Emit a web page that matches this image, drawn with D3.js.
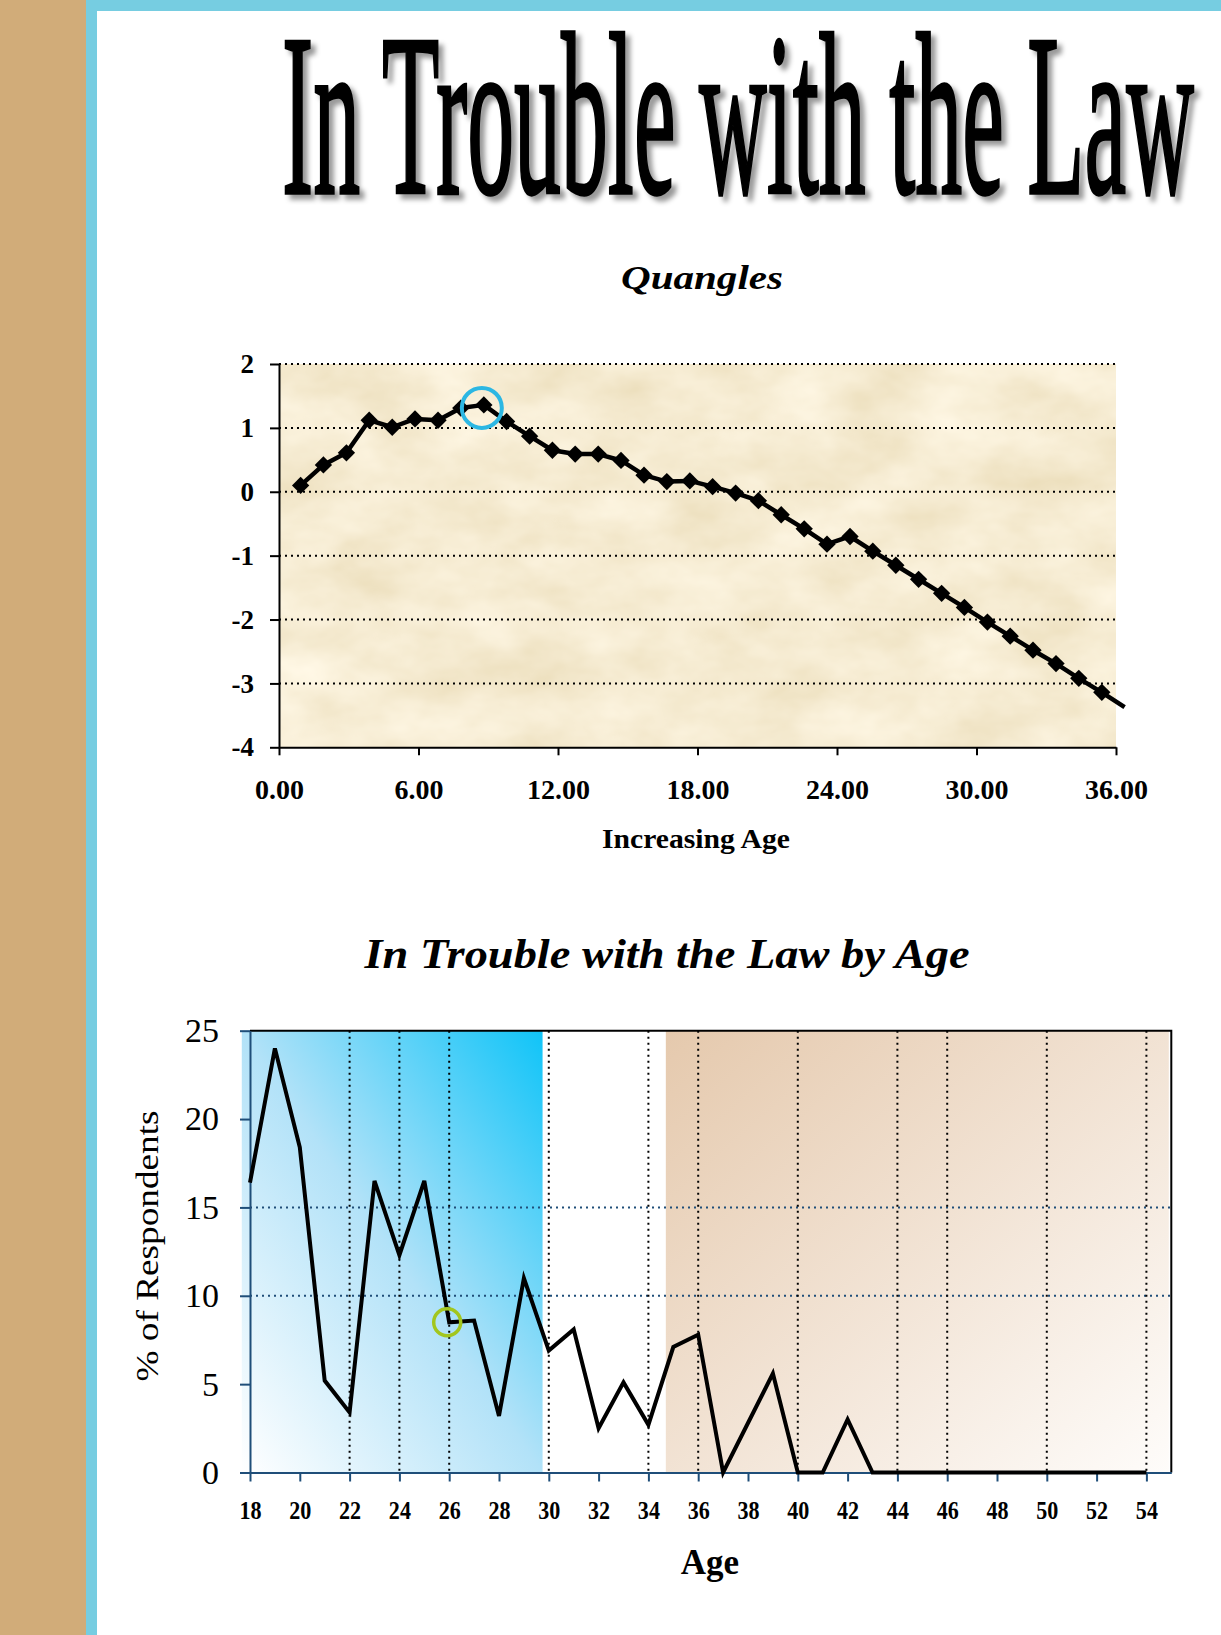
<!DOCTYPE html>
<html><head><meta charset="utf-8">
<script src="https://cdn.jsdelivr.net/npm/d3@7"></script>
<style>body{margin:0;background:#fff;} svg{display:block}</style>
</head><body><svg id="c" width="1221" height="1635"></svg>
<script>
// ---------- DATA ----------
const pageTitle = "In Trouble with the Law";
const quangleTitle = "Quangles";
const quangleXLabel = "Increasing Age";
const quangleX = [0.93,1.91,2.90,3.88,4.87,5.85,6.84,7.82,8.81,9.79,10.78,11.76,12.74,13.73,14.71,15.70,16.68,17.67,18.65,19.64,20.62,21.60,22.59,23.57,24.56,25.54,26.53,27.51,28.50,29.48,30.47,31.45,32.43,33.42,34.40,35.39,36.37];
const quangleY = [0.10,0.42,0.61,1.12,1.01,1.14,1.12,1.31,1.36,1.10,0.87,0.65,0.59,0.59,0.49,0.26,0.16,0.17,0.08,-0.02,-0.14,-0.36,-0.58,-0.82,-0.70,-0.93,-1.15,-1.37,-1.59,-1.81,-2.04,-2.26,-2.48,-2.69,-2.92,-3.14,-3.37];
const quangleXTicks = [0,6,12,18,24,30,36];
const quangleYTicks = [-4,-3,-2,-1,0,1,2];
const quangleGrid = [-3,-2,-1,0,1,2];
const quangleHighlight = 8;

const troubleTitle = "In Trouble with the Law by Age";
const troubleYLabel = "% of Respondents";
const troubleXLabel = "Age";
const ages = [18,19,20,21,22,23,24,25,26,27,28,29,30,31,32,33,34,35,36,37,38,39,40,41,42,43,44,45,46,47,48,49,50,51,52,53,54];
const troublePct = [16.4,24.0,18.4,5.2,3.4,16.5,12.3,16.5,8.5,8.6,3.2,11.0,6.9,8.1,2.5,5.1,2.7,7.1,7.8,0,2.8,5.6,0,0,3.0,0,0,0,0,0,0,0,0,0,0,0,0];
const ageTicks = [18,20,22,24,26,28,30,32,34,36,38,40,42,44,46,48,50,52,54];
const ageGrid = [22,24,26,30,34,36,40,44,46,50,54];
const pctTicks = [0,5,10,15,20,25];
const pctGrid = [10,15];
const blueBand = [17.67,29.75];
const tanBand = [34.7,54.9];
const troubleHighlightAge = 26;

// ---------- DRAW ----------
const svg = d3.select('#c');
const defs = svg.append('defs');
const SERIF = "'Liberation Serif','Times New Roman',serif";

// page frame
svg.append('rect').attr('x',0).attr('y',0).attr('width',86).attr('height',1635).attr('fill','#d1ac79');
svg.append('rect').attr('x',86).attr('y',0).attr('width',11).attr('height',1635).attr('fill','#76cde1');
svg.append('rect').attr('x',86).attr('y',0).attr('width',1135).attr('height',11).attr('fill','#76cde1');

// shadow filter
const sh = defs.append('filter').attr('id','shadow').attr('x','-1%').attr('y','-5%').attr('width','103%').attr('height','115%');
sh.append('feDropShadow').attr('dx',5).attr('dy',5).attr('stdDeviation',2.5).attr('flood-color','#000').attr('flood-opacity',0.4);

const titleG = svg.append('g').attr('filter','url(#shadow)');
const titleT = titleG.append('text').attr('x',0).attr('y',0)
  .attr('font-family',SERIF).attr('font-weight','normal').attr('font-size',230)
  .attr('stroke','#000').attr('stroke-width',2.5).attr('vector-effect','non-scaling-stroke')
  .attr('fill','#000').text(pageTitle);
const natW = titleT.node().getComputedTextLength();
titleT.attr('transform',`translate(282,193) scale(${912/natW},1)`);

// parchment filter
const pf = defs.append('filter').attr('id','paper').attr('filterUnits','objectBoundingBox')
  .attr('x',0).attr('y',0).attr('width',1).attr('height',1);
pf.append('feTurbulence').attr('type','fractalNoise').attr('baseFrequency','0.012 0.02').attr('numOctaves',4).attr('seed',7).attr('result','n');
pf.append('feColorMatrix').attr('in','n').attr('type','matrix')
  .attr('values','0.2 0 0 0 0.82  0.25 0 0 0 0.71  0.35 0 0 0 0.47  0 0 0 0 1');

// ===== Chart 1 =====
const x1 = d3.scaleLinear().domain([0,36]).range([279,1116]);
const y1 = d3.scaleLinear().domain([-4,2]).range([747.3,364]);

svg.append('text').attr('x',702).attr('y',289).attr('text-anchor','middle')
  .attr('font-family',SERIF).attr('font-weight','bold').attr('font-style','italic').attr('font-size',34)
  .attr('textLength',162).attr('lengthAdjust','spacingAndGlyphs').text(quangleTitle);

svg.append('rect').attr('x',x1(0)).attr('y',y1(2)).attr('width',x1(36)-x1(0)).attr('height',y1(-4)-y1(2))
  .attr('fill','#e9d5ae').attr('filter','url(#paper)');

svg.append('g').selectAll('line').data(quangleGrid).join('line')
  .attr('x1',x1(0)).attr('x2',x1(36)).attr('y1',d=>y1(d)).attr('y2',d=>y1(d))
  .attr('stroke','#000').attr('stroke-width',2).attr('stroke-dasharray','2,4');

const ax1 = svg.append('g').attr('transform',`translate(0,${y1(-4)})`)
  .call(d3.axisBottom(x1).tickValues(quangleXTicks).tickFormat(d3.format('.2f')).tickSize(8).tickSizeOuter(0).tickPadding(24));
const ay1 = svg.append('g').attr('transform',`translate(${x1(0)},0)`)
  .call(d3.axisLeft(y1).tickValues(quangleYTicks).tickFormat(d=>String(d)).tickSize(9).tickSizeOuter(0).tickPadding(16));
[ax1,ay1].forEach(g=>{
  g.select('.domain').attr('stroke','#000').attr('stroke-width',2);
  g.selectAll('.tick line').attr('stroke','#000').attr('stroke-width',2);
  g.selectAll('.tick text').attr('fill','#000').attr('font-family',SERIF).attr('font-weight','bold');
});
ax1.selectAll('.tick text').attr('font-size',28);
ay1.selectAll('.tick text').attr('font-size',27);

svg.append('text').attr('x',696).attr('y',848).attr('text-anchor','middle')
  .attr('font-family',SERIF).attr('font-weight','bold').attr('font-size',28)
  .attr('textLength',188).attr('lengthAdjust','spacingAndGlyphs').text(quangleXLabel);

const line1 = d3.line().x((d,i)=>x1(quangleX[i])).y(d=>y1(d));
svg.append('path').datum(quangleY).attr('d',line1).attr('fill','none')
  .attr('stroke','#000').attr('stroke-width',4.5).attr('stroke-linejoin','round');

const markerData = quangleY.map((v,i)=>({x:quangleX[i],y:v})).filter(d=>d.x<=36);
svg.append('g').selectAll('path').data(markerData).join('path')
  .attr('d',d3.symbol(d3.symbolSquare,150))
  .attr('transform',d=>`translate(${x1(d.x)},${y1(d.y)}) rotate(45)`)
  .attr('fill','#000');

svg.append('circle').attr('cx',x1(quangleX[quangleHighlight])-2).attr('cy',y1(quangleY[quangleHighlight])+3).attr('r',20)
  .attr('fill','none').attr('stroke','#2cb7e3').attr('stroke-width',4);

// ===== Chart 2 =====
const x2 = d3.scaleLinear().domain([18,55]).range([250,1171.3]);
const y2 = d3.scaleLinear().domain([0,25]).range([1472.5,1030.7]);

svg.append('text').attr('x',667).attr('y',968).attr('text-anchor','middle')
  .attr('font-family',SERIF).attr('font-weight','bold').attr('font-style','italic').attr('font-size',42)
  .attr('textLength',605).attr('lengthAdjust','spacingAndGlyphs').text(troubleTitle);

const bg = defs.append('linearGradient').attr('id','blueG').attr('x1',0).attr('y1',1).attr('x2',1).attr('y2',0);
bg.append('stop').attr('offset',0).attr('stop-color','#ffffff');
bg.append('stop').attr('offset',0.5).attr('stop-color','#b2e2f8');
bg.append('stop').attr('offset',1).attr('stop-color','#10c4f8');
const tg = defs.append('linearGradient').attr('id','tanG').attr('x1',0).attr('y1',0).attr('x2',1).attr('y2',1);
tg.append('stop').attr('offset',0).attr('stop-color','#e5c9ad');
tg.append('stop').attr('offset',1).attr('stop-color','#fefcfa');

svg.append('rect').attr('x',x2(blueBand[0])).attr('y',y2(25)).attr('width',x2(blueBand[1])-x2(blueBand[0]))
  .attr('height',y2(0)-y2(25)).attr('fill','url(#blueG)');
svg.append('rect').attr('x',x2(tanBand[0])).attr('y',y2(25)).attr('width',x2(tanBand[1])-x2(tanBand[0]))
  .attr('height',y2(0)-y2(25)).attr('fill','url(#tanG)');

svg.append('g').selectAll('line').data(pctGrid).join('line')
  .attr('x1',x2(18)).attr('x2',x2(55)).attr('y1',d=>y2(d)).attr('y2',d=>y2(d))
  .attr('stroke','#1f4e79').attr('stroke-width',2).attr('stroke-dasharray','2,4');
svg.append('g').selectAll('line').data(ageGrid).join('line')
  .attr('x1',d=>x2(d)).attr('x2',d=>x2(d)).attr('y1',y2(25)).attr('y2',y2(0))
  .attr('stroke','#000').attr('stroke-width',2).attr('stroke-dasharray','2,4');

// frame top & right
svg.append('path').attr('d',`M${x2(18)},${y2(25)}H${x2(55)}V${y2(0)}`)
  .attr('fill','none').attr('stroke','#000').attr('stroke-width',2);

const ax2 = svg.append('g').attr('transform',`translate(0,${y2(0)})`)
  .call(d3.axisBottom(x2).tickValues(ageTicks).tickSize(9).tickSizeOuter(0).tickPadding(19));
const ay2 = svg.append('g').attr('transform',`translate(${x2(18)},0)`)
  .call(d3.axisLeft(y2).tickValues(pctTicks).tickSize(10).tickSizeOuter(0).tickPadding(21));
[ax2,ay2].forEach(g=>{
  g.select('.domain').attr('stroke','#1f4e79').attr('stroke-width',2);
  g.selectAll('.tick line').attr('stroke','#1f4e79').attr('stroke-width',2);
  g.selectAll('.tick text').attr('fill','#000').attr('font-family',SERIF);
});
ax2.selectAll('.tick text').attr('font-size',26).attr('font-weight','bold').attr('transform','scale(0.85,1)');
ay2.selectAll('.tick text').attr('font-size',34);

const line2 = d3.line().x((d,i)=>x2(ages[i])).y(d=>y2(d));
svg.append('path').datum(troublePct).attr('d',line2).attr('fill','none')
  .attr('stroke','#000').attr('stroke-width',4).attr('stroke-linejoin','miter');

const hi = ages.indexOf(troubleHighlightAge);
svg.append('circle').attr('cx',x2(ages[hi])-2).attr('cy',y2(troublePct[hi])).attr('r',13.5)
  .attr('fill','none').attr('stroke','#a2c61e').attr('stroke-width',3.5);

svg.append('text').attr('transform','translate(158,1246) rotate(-90)').attr('text-anchor','middle')
  .attr('font-family',SERIF).attr('font-size',31)
  .attr('textLength',271).attr('lengthAdjust','spacingAndGlyphs').text(troubleYLabel);

svg.append('text').attr('x',710).attr('y',1574).attr('text-anchor','middle')
  .attr('font-family',SERIF).attr('font-weight','bold').attr('font-size',35).text(troubleXLabel);
</script></body></html>
